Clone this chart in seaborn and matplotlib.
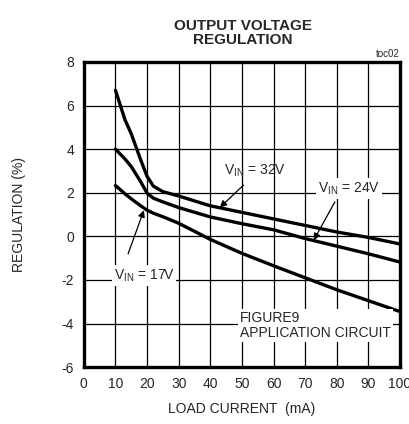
import matplotlib
matplotlib.use("Agg")
import matplotlib.pyplot as plt
import seaborn as sns
import pandas as pd

# ── Data ─────────────────────────────────────────────────────────────────────
load_ma = [10, 12, 13, 15, 18, 20, 22, 25, 30, 40, 50, 60, 70, 80, 90, 100]
reg_32v = [6.7, 5.8, 5.35, 4.7, 3.5, 2.75, 2.3, 2.05, 1.85, 1.4, 1.1, 0.8, 0.5, 0.2, -0.05, -0.35]
reg_24v = [4.0, 3.7, 3.55, 3.2, 2.5, 1.98, 1.75, 1.58, 1.32, 0.89, 0.58, 0.3, -0.1, -0.45, -0.8, -1.18]
reg_17v = [2.33, 2.08, 1.95, 1.72, 1.4, 1.2, 1.06, 0.9, 0.6, -0.14, -0.78, -1.35, -1.9, -2.45, -2.95, -3.45]
series_names = ["32V", "24V", "17V"]

df = pd.concat([
    pd.DataFrame({"load": load_ma, "reg": vals, "vin": name})
    for name, vals in zip(series_names, [reg_32v, reg_24v, reg_17v])
])

sns.set_style("white")
plt.rcParams["font.family"] = ["Liberation Sans Narrow", "Liberation Sans", "DejaVu Sans"]
plt.rcParams["axes.unicode_minus"] = False

fig = plt.figure(figsize=(4.09, 4.24), dpi=100)
ax = fig.add_axes([0.205, 0.134, 0.773, 0.72])

sns.lineplot(data=df, x="load", y="reg", units="vin", estimator=None,
             color="black", lw=2.4, legend=False, ax=ax, zorder=3)

ax.set_xlim(0, 100)
ax.set_ylim(-6, 8)
ax.set_xticks(range(0, 101, 10))
ax.set_yticks(range(-6, 9, 2))
ax.grid(True, color="black", lw=0.9)
for s in ax.spines.values():
    s.set_linewidth(2.4)
    s.set_color("black")
    s.set_zorder(5)
ax.tick_params(length=0, labelsize=10, pad=7)
ax.set_xlabel("LOAD CURRENT  (mA)", fontsize=10, labelpad=8)
ax.set_ylabel("REGULATION (%)", fontsize=10, labelpad=26)

fig.text(0.594, 0.955, "OUTPUT VOLTAGE\nREGULATION", ha="center", va="top",
         fontsize=11, fontweight="bold", linespacing=1.0)
ax.text(1.0, 1.01, "toc02", transform=ax.transAxes, ha="right", va="bottom", fontsize=7)

# ── Annotations ──────────────────────────────────────────────────────────────
box = dict(facecolor="white", edgecolor="none", pad=1.5)
arrow = dict(arrowstyle="-|>", color="black", lw=0.9, mutation_scale=10, shrinkA=0, shrinkB=0)

ax.text(54, 3.0, "V$_{\\mathregular{IN}}$ = 32V", ha="center", va="center", fontsize=10, zorder=4)
ax.annotate("", xy=(43, 1.32), xytext=(50.5, 2.35), arrowprops=arrow, zorder=4)

ax.text(84, 2.2, "V$_{\\mathregular{IN}}$ = 24V", ha="center", va="center", fontsize=10,
        bbox=box, zorder=4)
ax.annotate("", xy=(72.7, -0.18), xytext=(79.4, 1.58), arrowprops=arrow, zorder=4)

ax.text(19, -1.8, "V$_{\\mathregular{IN}}$ = 17V", ha="center", va="center", fontsize=10,
        bbox=box, zorder=4)
ax.annotate("", xy=(19, 1.2), xytext=(14, -0.8), arrowprops=arrow, zorder=4)

ax.text(49.5, -4.1, "FIGURE9\nAPPLICATION CIRCUIT", ha="left", va="center",
        fontsize=10, linespacing=1.05, bbox=box, zorder=4)

fig.savefig("out.png", dpi=100)
